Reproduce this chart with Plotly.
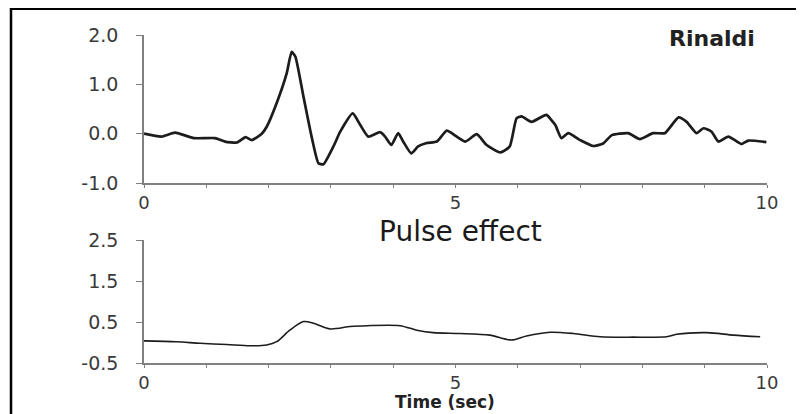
import plotly.graph_objects as go

# Top panel: Rinaldi ground velocity record
t_top = [0.0, 0.28, 0.5, 0.8, 1.14, 1.3, 1.49, 1.63, 1.73, 1.89, 1.97, 2.13, 2.29, 2.37, 2.43,
         2.56, 2.69, 2.80, 2.88, 3.04, 3.15, 3.35, 3.47, 3.60, 3.79, 3.87, 3.97, 4.08, 4.16,
         4.29, 4.40, 4.54, 4.70, 4.86, 5.02, 5.16, 5.34, 5.50, 5.72, 5.87, 5.98, 6.06, 6.22,
         6.41, 6.46, 6.60, 6.70, 6.81, 7.0, 7.21, 7.37, 7.51, 7.77, 7.96, 8.17, 8.36, 8.58,
         8.71, 8.87, 8.98, 9.11, 9.22, 9.38, 9.59, 9.70, 9.99]
v_top = [0.0, -0.06, 0.02, -0.09, -0.09, -0.16, -0.18, -0.07, -0.13, 0.0, 0.14, 0.62, 1.22, 1.66, 1.56,
         0.75, -0.06, -0.60, -0.62, -0.26, 0.04, 0.41, 0.18, -0.06, 0.03, -0.06, -0.23, 0.01, -0.16,
         -0.40, -0.26, -0.19, -0.16, 0.06, -0.06, -0.16, -0.01, -0.23, -0.38, -0.26, 0.31, 0.35, 0.24,
         0.36, 0.38, 0.18, -0.09, 0.01, -0.13, -0.25, -0.20, -0.03, 0.01, -0.11, 0.01, 0.01, 0.33,
         0.24, 0.01, 0.11, 0.04, -0.16, -0.06, -0.21, -0.14, -0.17]

# Bottom panel: pulse effect
t_bot = [0.0, 0.52, 0.90, 1.33, 1.70, 1.97, 2.13, 2.34, 2.56, 2.72, 2.99, 3.31, 3.58, 4.11,
         4.38, 4.64, 5.07, 5.55, 5.90, 6.14, 6.52, 6.89, 7.32, 7.85, 8.39, 8.55, 9.03, 9.46, 9.89]
v_bot = [0.04, 0.02, -0.02, -0.05, -0.08, -0.06, 0.02, 0.30, 0.51, 0.47, 0.33, 0.39, 0.41, 0.41,
         0.30, 0.24, 0.22, 0.18, 0.06, 0.16, 0.25, 0.22, 0.14, 0.13, 0.14, 0.20, 0.24, 0.18, 0.14]

x_tickvals = [0, 1, 2, 3, 4, 5, 6, 7, 8, 9, 10]
x_ticktext = ["0", "", "", "", "", "5", "", "", "", "", "10"]
top_yticks = [-1.0, 0.0, 1.0, 2.0]
top_yticktext = ["-1.0", "0.0", "1.0", "2.0"]
bot_yticks = [-0.5, 0.5, 1.5, 2.5]
bot_yticktext = ["-0.5", "0.5", "1.5", "2.5"]

# The page body has an 8px default margin; figure sized to fit the window.
OFF = 8
W, H = 804 - OFF, 414 - OFF


def px(p):
    return (p - OFF) / W


def py(p):
    return 1 - (p - OFF) / H


LINE = "#1c1c1c"
AX = "#808080"
TXT = "#3a3a3a"
FONT = "DejaVu Sans"

fig = go.Figure()
fig.add_trace(go.Scatter(x=t_top, y=v_top, mode="lines", xaxis="x", yaxis="y",
                         line=dict(color=LINE, width=2.7, shape="spline", smoothing=0.5),
                         showlegend=False, hoverinfo="skip"))
fig.add_trace(go.Scatter(x=t_bot, y=v_bot, mode="lines", xaxis="x2", yaxis="y2",
                         line=dict(color=LINE, width=1.6, shape="spline", smoothing=0.8),
                         showlegend=False, hoverinfo="skip"))

xdom = [px(144), px(767)]
axis_common = dict(showline=True, linecolor=AX, linewidth=1.5, ticks="outside", tickcolor=AX,
                   showgrid=False, zeroline=False, automargin=False)
yfont = dict(family=FONT, size=19, color=TXT)
xfont = dict(family=FONT, size=18, color=TXT)

fig.update_layout(
    template="none",
    width=W, height=H, margin=dict(l=0, r=0, t=0, b=0, pad=0),
    paper_bgcolor="white", plot_bgcolor="white",
    xaxis=dict(domain=xdom, range=[0, 10], anchor="y", tickvals=x_tickvals, ticktext=x_ticktext,
               ticklen=3, tickfont=xfont, **axis_common),
    yaxis=dict(domain=[py(183), py(35)], range=[-1.0, 2.0], anchor="x",
               tickvals=top_yticks, ticktext=top_yticktext, ticklen=6, ticklabelstandoff=14,
               tickfont=yfont, **axis_common),
    xaxis2=dict(domain=xdom, range=[0, 10], anchor="y2", tickvals=x_tickvals, ticktext=x_ticktext,
                ticklen=3, tickfont=xfont, **axis_common),
    yaxis2=dict(domain=[py(363), py(240)], range=[-0.5, 2.5], anchor="x2",
                tickvals=bot_yticks, ticktext=bot_yticktext, ticklen=6, ticklabelstandoff=14,
                tickfont=yfont, **axis_common),
    annotations=[
        dict(text="<b>Rinaldi</b>", x=px(712), y=py(38), xref="paper", yref="paper",
             xanchor="center", yanchor="middle", showarrow=False,
             font=dict(family=FONT, size=22, color="#222")),
        dict(text="Pulse effect", x=px(460), y=py(231), xref="paper", yref="paper",
             xanchor="center", yanchor="middle", showarrow=False,
             font=dict(family=FONT, size=28, color="#1a1a1a")),
        dict(text="<b>Time (sec)</b>", x=px(445), y=py(402), xref="paper", yref="paper",
             xanchor="center", yanchor="middle", showarrow=False,
             font=dict(family=FONT, size=17, color="#222")),
    ],
    shapes=[
        dict(type="line", xref="paper", yref="paper", x0=px(11), x1=1, y0=1 - 0.5 / H, y1=1 - 0.5 / H,
             line=dict(color="black", width=3)),
        dict(type="line", xref="paper", yref="paper", x0=px(11), x1=px(11), y0=0, y1=1,
             line=dict(color="black", width=2.5)),
    ],
)

fig.write_html("out.html")
